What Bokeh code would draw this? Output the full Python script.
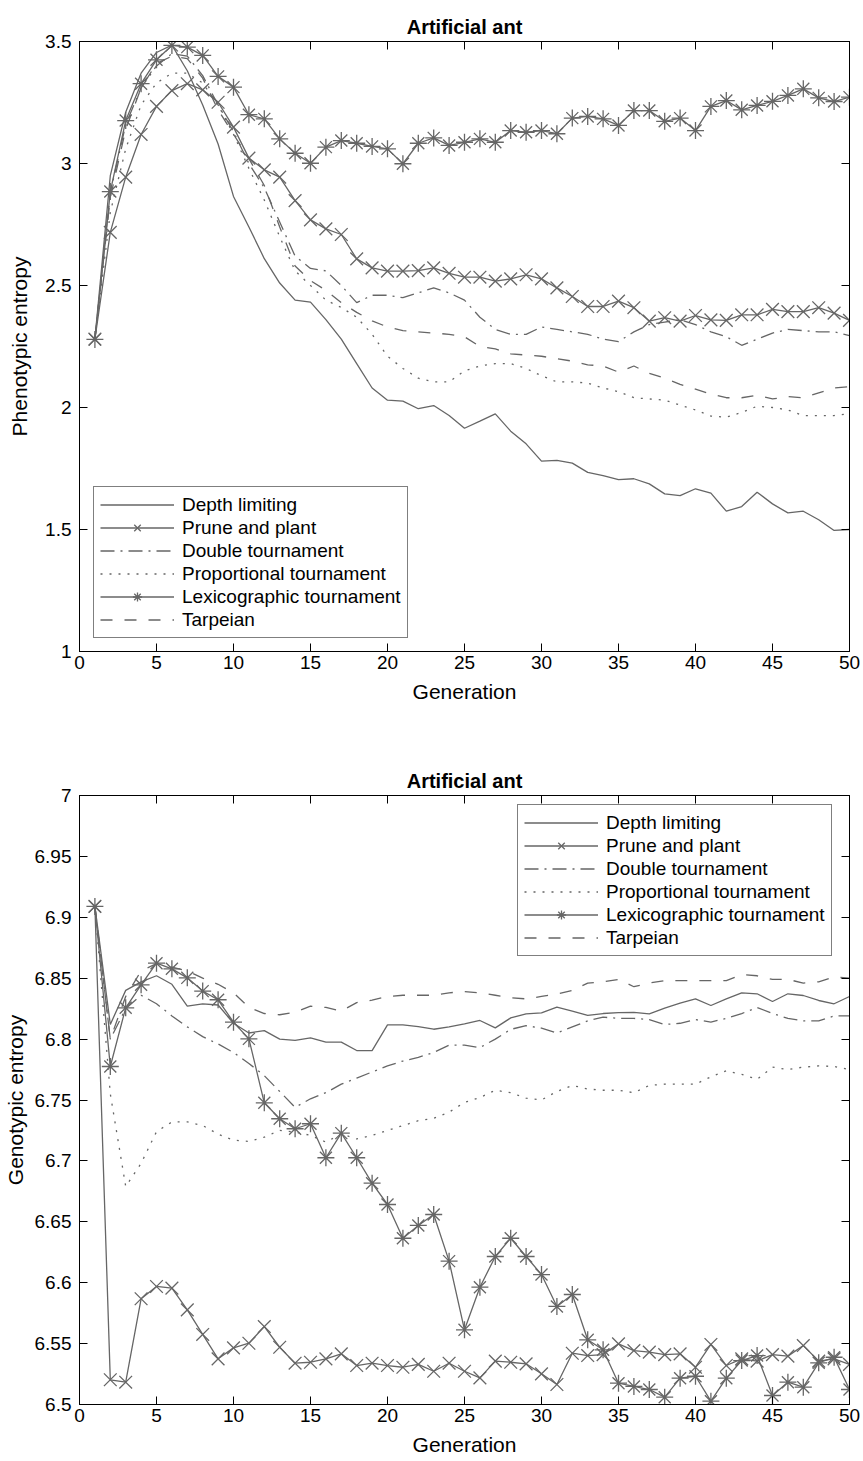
from bokeh.plotting import figure
from bokeh.models import (Range1d, LinearAxis, FixedTicker, CustomJSTickFormatter,
                          Legend, LegendItem)
from bokeh.layouts import column
from bokeh.embed import file_html
from bokeh.resources import INLINE

# ---------------- data ----------------
generation = list(range(1, 51))

x_ticks = [0, 5, 10, 15, 20, 25, 30, 35, 40, 45, 50]
x_tick_labels = ["0", "5", "10", "15", "20", "25", "30", "35", "40", "45", "50"]

top_y_ticks = [1, 1.5, 2, 2.5, 3, 3.5]
top_y_tick_labels = ["1", "1.5", "2", "2.5", "3", "3.5"]

bot_y_ticks = [6.5, 6.55, 6.6, 6.65, 6.7, 6.75, 6.8, 6.85, 6.9, 6.95, 7]
bot_y_tick_labels = ["6.5", "6.55", "6.6", "6.65", "6.7", "6.75", "6.8", "6.85",
                     "6.9", "6.95", "7"]

series_names = ["Depth limiting", "Prune and plant", "Double tournament",
                "Proportional tournament", "Lexicographic tournament", "Tarpeian"]

# Phenotypic entropy (top panel)
depth_pheno = [2.28, 2.95, 3.21, 3.37, 3.455, 3.485, 3.38, 3.24, 3.08, 2.865,
               2.74, 2.61, 2.51, 2.44, 2.432, 2.36, 2.28, 2.18, 2.08, 2.03,
               2.026, 1.995, 2.008, 1.967, 1.915, 1.944, 1.974, 1.903, 1.851, 1.78,
               1.783, 1.772, 1.734, 1.721, 1.704, 1.708, 1.687, 1.646, 1.639, 1.667,
               1.649, 1.575, 1.594, 1.653, 1.605, 1.568, 1.575, 1.54, 1.496, 1.5]
prune_pheno = [2.28, 2.718, 2.944, 3.119, 3.234, 3.299, 3.327, 3.302, 3.251, 3.149,
               3.022, 2.974, 2.944, 2.848, 2.769, 2.732, 2.709, 2.609, 2.572, 2.559,
               2.559, 2.561, 2.572, 2.55, 2.534, 2.534, 2.518, 2.527, 2.544, 2.527,
               2.49, 2.455, 2.414, 2.414, 2.436, 2.409, 2.354, 2.368, 2.354, 2.377,
               2.359, 2.357, 2.38, 2.38, 2.402, 2.393, 2.393, 2.409, 2.387, 2.357]
double_pheno = [2.28, 2.88, 3.16, 3.31, 3.40, 3.45, 3.44, 3.36, 3.24, 3.13,
                3.00, 2.90, 2.76, 2.62, 2.57, 2.56, 2.50, 2.43, 2.46, 2.46,
                2.45, 2.47, 2.49, 2.47, 2.44, 2.37, 2.32, 2.30, 2.30, 2.33,
                2.32, 2.31, 2.30, 2.28, 2.27, 2.31, 2.34, 2.35, 2.36, 2.34,
                2.31, 2.29, 2.255, 2.28, 2.305, 2.32, 2.315, 2.31, 2.31, 2.295]
prop_pheno = [2.28, 2.80, 3.06, 3.24, 3.33, 3.37, 3.37, 3.33, 3.24, 3.12,
              2.98, 2.85, 2.70, 2.56, 2.50, 2.44, 2.41, 2.37, 2.30, 2.21,
              2.16, 2.12, 2.105, 2.105, 2.15, 2.17, 2.18, 2.18, 2.16, 2.13,
              2.105, 2.105, 2.10, 2.08, 2.065, 2.04, 2.035, 2.03, 2.01, 1.99,
              1.965, 1.96, 1.98, 2.005, 2.0, 1.99, 1.967, 1.967, 1.967, 1.975]
lex_pheno = [2.279, 2.885, 3.176, 3.327, 3.425, 3.484, 3.477, 3.443, 3.357, 3.313,
             3.2, 3.183, 3.101, 3.042, 3.001, 3.067, 3.094, 3.083, 3.07, 3.06,
             2.999, 3.083, 3.105, 3.074, 3.087, 3.101, 3.087, 3.135, 3.128, 3.135,
             3.122, 3.186, 3.193, 3.183, 3.156, 3.217, 3.217, 3.173, 3.186, 3.135,
             3.234, 3.258, 3.22, 3.238, 3.255, 3.279, 3.306, 3.269, 3.254, 3.272]
tarp_pheno = [2.28, 2.86, 3.14, 3.31, 3.41, 3.44, 3.43, 3.35, 3.22, 3.12,
              3.02, 2.91, 2.74, 2.58, 2.52, 2.48, 2.43, 2.39, 2.355, 2.33,
              2.315, 2.31, 2.305, 2.30, 2.29, 2.25, 2.24, 2.22, 2.215, 2.21,
              2.20, 2.19, 2.175, 2.17, 2.145, 2.17, 2.14, 2.12, 2.095, 2.075,
              2.055, 2.04, 2.04, 2.05, 2.035, 2.045, 2.04, 2.06, 2.08, 2.085]

# Genotypic entropy (bottom panel)
depth_geno = [6.909, 6.812, 6.84, 6.847, 6.852, 6.845, 6.827, 6.829, 6.828, 6.813,
              6.805, 6.807, 6.8, 6.799, 6.801, 6.7975, 6.7975, 6.7906, 6.7906, 6.8117,
              6.8117, 6.8103, 6.8081, 6.81, 6.8125, 6.8153, 6.8092, 6.8174, 6.8207, 6.8215,
              6.8262, 6.823, 6.8194, 6.821, 6.8218, 6.822, 6.8207, 6.8254, 6.8295, 6.833,
              6.8276, 6.833, 6.838, 6.8372, 6.8309, 6.8372, 6.8358, 6.8317, 6.829, 6.835]
prune_geno = [6.909, 6.5203, 6.5183, 6.5868, 6.5969, 6.5955, 6.5777, 6.5575, 6.5375, 6.5465,
              6.5503, 6.564, 6.547, 6.5339, 6.5347, 6.5375, 6.5416, 6.532, 6.5339, 6.532,
              6.5306, 6.5329, 6.5273, 6.5339, 6.5273, 6.5219, 6.5356, 6.5347, 6.5334, 6.5252,
              6.5164, 6.5421, 6.5402, 6.541, 6.5498, 6.5443, 6.543, 6.541, 6.5416, 6.5306,
              6.5493, 6.532, 6.5375, 6.5356, 6.541, 6.5397, 6.5484, 6.5356, 6.5375, 6.533]
double_geno = [6.909, 6.80, 6.825, 6.836, 6.829, 6.819, 6.81, 6.802, 6.796, 6.789,
               6.78, 6.77, 6.757, 6.744, 6.751, 6.756, 6.763, 6.768, 6.773, 6.778,
               6.782, 6.785, 6.789, 6.795, 6.795, 6.793, 6.80, 6.808, 6.811, 6.809,
               6.805, 6.81, 6.815, 6.818, 6.817, 6.817, 6.816, 6.812, 6.813, 6.816,
               6.814, 6.817, 6.821, 6.826, 6.821, 6.817, 6.815, 6.815, 6.819, 6.819]
prop_geno = [6.909, 6.755, 6.679, 6.698, 6.724, 6.732, 6.732, 6.729, 6.722, 6.717,
             6.716, 6.7195, 6.725, 6.7236, 6.721, 6.7154, 6.7222, 6.718, 6.721, 6.725,
             6.729, 6.733, 6.735, 6.74, 6.748, 6.752, 6.758, 6.756, 6.7515, 6.75,
             6.757, 6.762, 6.759, 6.758, 6.758, 6.756, 6.762, 6.763, 6.763, 6.763,
             6.769, 6.774, 6.771, 6.767, 6.777, 6.775, 6.777, 6.778, 6.7775, 6.775]
lex_geno = [6.9089, 6.7775, 6.8257, 6.8446, 6.8623, 6.8577, 6.8503, 6.8394, 6.8323, 6.8139,
            6.8002, 6.7477, 6.7346, 6.7264, 6.7305, 6.7026, 6.7228, 6.7026, 6.6817, 6.6642,
            6.6365, 6.647, 6.656, 6.6177, 6.5613, 6.5963, 6.6215, 6.6365, 6.6215, 6.6067,
            6.5805, 6.5903, 6.5531, 6.5449, 6.5175, 6.5148, 6.5123, 6.506, 6.5216, 6.5232,
            6.5027, 6.5216, 6.5361, 6.5402, 6.5074, 6.5183, 6.5142, 6.5342, 6.5388, 6.5123]
tarp_geno = [6.909, 6.80, 6.835, 6.856, 6.862, 6.859, 6.856, 6.85, 6.845, 6.838,
             6.826, 6.821, 6.82, 6.822, 6.827, 6.826, 6.823, 6.83, 6.832, 6.835,
             6.836, 6.836, 6.836, 6.838, 6.839, 6.838, 6.836, 6.834, 6.833, 6.835,
             6.837, 6.84, 6.846, 6.847, 6.849, 6.843, 6.846, 6.848, 6.848, 6.848,
             6.848, 6.848, 6.853, 6.852, 6.849, 6.849, 6.846, 6.847, 6.851, 6.85]

# ---------------- styling ----------------
FONT = "Liberation Sans"
LINE_COLOR = "#666666"
STYLES = [
    dict(dash="solid", marker=None),
    dict(dash="solid", marker="x"),
    dict(dash="14 6 2 6", marker=None),
    dict(dash="2 7", marker=None),
    dict(dash="solid", marker="asterisk"),
    dict(dash="12 12", marker=None),
]


def make_panel(series, y_ticks, y_labels, y_range, ylabel, height,
               border_top, border_bottom, ylabel_standoff, legend_loc):
    p = figure(width=863, height=height, output_backend="svg", toolbar_location=None,
               x_range=Range1d(0, 50), y_range=Range1d(*y_range),
               min_border_left=76, min_border_right=14,
               min_border_top=border_top, min_border_bottom=border_bottom,
               title="Artificial ant")
    p.title.align = "center"
    p.title.text_font = FONT
    p.title.text_font_size = "20px"
    p.title.text_font_style = "bold"
    p.title.text_color = "black"
    p.title.standoff = 8
    p.grid.visible = False
    p.outline_line_color = "black"
    p.outline_line_width = 1
    p.background_fill_color = "white"
    p.border_fill_color = "white"

    xlab = dict(zip(x_ticks, x_tick_labels))
    ylab = dict(zip(y_ticks, y_labels))

    for ax in p.xaxis:
        ax.ticker = FixedTicker(ticks=x_ticks)
        ax.major_label_overrides = xlab
        ax.axis_label = "Generation"
        ax.axis_label_standoff = 8
        ax.major_label_standoff = 4
    for ax in p.yaxis:
        ax.ticker = FixedTicker(ticks=y_ticks)
        ax.major_label_overrides = ylab
        ax.axis_label = ylabel
        ax.axis_label_standoff = ylabel_standoff
        ax.major_label_standoff = 8
    for ax in list(p.xaxis) + list(p.yaxis):
        ax.major_tick_in = 8
        ax.major_tick_out = 0
        ax.minor_tick_line_color = None
        ax.axis_line_color = "black"
        ax.major_tick_line_color = "black"
        ax.major_label_text_font = FONT
        ax.major_label_text_font_size = "19px"
        ax.major_label_text_color = "black"
        ax.axis_label_text_font = FONT
        ax.axis_label_text_font_size = "21px"
        ax.axis_label_text_font_style = "normal"
        ax.axis_label_text_color = "black"

    blank = CustomJSTickFormatter(code="return ''")
    for loc, ticks in (("right", y_ticks), ("above", x_ticks)):
        ax = LinearAxis(ticker=FixedTicker(ticks=ticks), formatter=blank,
                        major_tick_in=8, major_tick_out=0, minor_tick_line_color=None,
                        major_label_standoff=0, axis_line_color="black",
                        major_label_text_font_size="1px")
        p.add_layout(ax, loc)

    items = []
    for name, ys, st in zip(series_names, series, STYLES):
        rs = [p.line(generation, ys, line_color=LINE_COLOR, line_width=1.3,
                     line_dash=st["dash"])]
        if st["marker"] is not None:
            size = 18 if st["marker"] == "x" else 17
            rs.append(p.scatter(generation, ys, marker=st["marker"], size=size,
                                line_color=LINE_COLOR, line_width=1.3,
                                fill_color=None))
        items.append(LegendItem(label=name, renderers=rs))

    legend = Legend(items=items, location=legend_loc,
                    label_text_font=FONT, label_text_font_size="19px",
                    label_text_color="black", glyph_width=74, glyph_height=23,
                    label_height=23, label_standoff=8, spacing=0, padding=6,
                    margin=0, border_line_color="black", border_line_width=1,
                    background_fill_color="white", background_fill_alpha=1.0)
    p.add_layout(legend)
    return p


top = make_panel([depth_pheno, prune_pheno, double_pheno, prop_pheno, lex_pheno, tarp_pheno],
                 top_y_ticks, top_y_tick_labels, (1, 3.5), "Phenotypic entropy",
                 720, 41, 69, 11, (14, 13))
bottom = make_panel([depth_geno, prune_geno, double_geno, prop_geno, lex_geno, tarp_geno],
                    bot_y_ticks, bot_y_tick_labels, (6.5, 7), "Genotypic entropy",
                    741, 75, 57, 5, (438, 448))

layout = column(top, bottom, spacing=0)
open("out.html", "w").write(file_html(layout, INLINE))
